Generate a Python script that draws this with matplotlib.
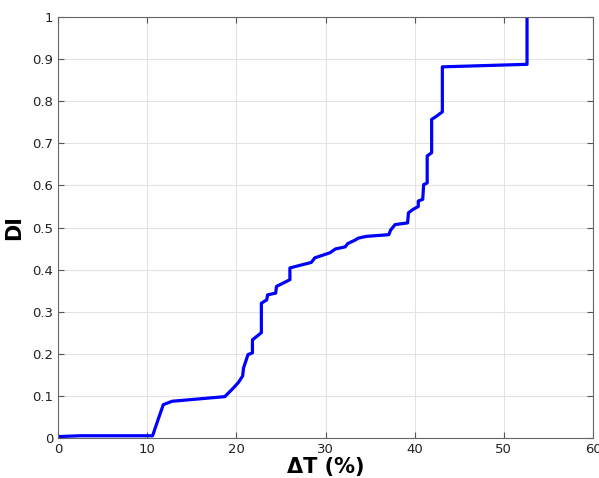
import matplotlib
matplotlib.use("Agg")
import matplotlib.pyplot as plt

dT = [0.0, 2.5, 10.6, 11.0, 11.8, 12.8, 18.7, 19.5, 20.2, 20.7, 20.8, 21.3,
      21.8, 21.8, 22.8, 22.8, 23.4, 23.5, 24.4, 24.5, 26.0, 26.0, 28.4, 28.8,
      30.5, 31.1, 32.2, 32.5, 33.3, 33.7, 34.6, 37.1, 37.3, 37.8, 39.2, 39.3,
      39.8, 40.4, 40.4, 40.9, 41.0, 41.4, 41.4, 41.9, 41.9, 42.4, 43.1, 43.1,
      52.6, 52.6]
DI = [0.003, 0.005, 0.005, 0.03, 0.079, 0.087, 0.098, 0.115, 0.131, 0.147,
      0.166, 0.198, 0.202, 0.233, 0.25, 0.32, 0.328, 0.34, 0.344, 0.36,
      0.376, 0.404, 0.417, 0.428, 0.44, 0.449, 0.454, 0.462, 0.47, 0.475,
      0.479, 0.483, 0.494, 0.507, 0.511, 0.535, 0.543, 0.55, 0.563, 0.567,
      0.602, 0.606, 0.67, 0.678, 0.757, 0.764, 0.775, 0.882, 0.888, 1.0]

fig = plt.figure(figsize=(5.99, 4.78), dpi=100)
ax = fig.add_axes([0.097, 0.084, 0.893, 0.880])
ax.plot(dT, DI, color="#0000ff", linewidth=2.3, solid_joinstyle="round")
ax.set_xlim(0, 60)
ax.set_ylim(0, 1)
ax.set_xticks(range(0, 61, 10))
ax.set_yticks([i / 10 for i in range(11)])
ax.set_yticklabels(["0", "0.1", "0.2", "0.3", "0.4", "0.5", "0.6", "0.7", "0.8", "0.9", "1"])
ax.grid(True, color="#e3e3e3", linewidth=0.8)
ax.tick_params(direction="in", top=True, right=True, labelsize=9.5, length=4,
               color="#555555", labelcolor="#222222")
for s in ax.spines.values():
    s.set_color("#666666")
ax.set_xlabel("ΔT (%)", fontsize=15, fontweight="bold", labelpad=1)
ax.set_ylabel("DI", fontsize=15, fontweight="bold", labelpad=6)
fig.savefig("out.png", dpi=100)
